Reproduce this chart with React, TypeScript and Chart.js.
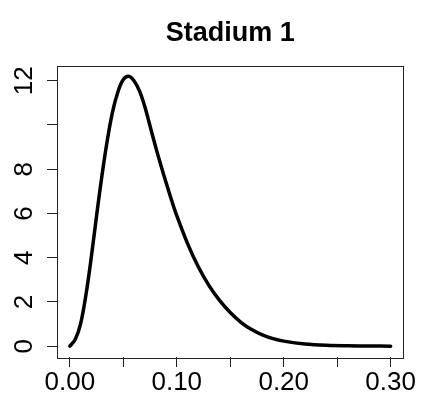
import React, { useEffect, useRef } from "react";
import { Chart, registerables } from "chart.js";

Chart.register(...registerables);

const titleText = "Stadium 1";
const xValues = [0, 0.005, 0.01, 0.015, 0.02, 0.025, 0.03, 0.035, 0.04, 0.045, 0.05, 0.055, 0.06, 0.065, 0.07, 0.075, 0.08, 0.085, 0.09, 0.095, 0.1, 0.11, 0.12, 0.13, 0.14, 0.15, 0.16, 0.17, 0.18, 0.19, 0.2, 0.22, 0.24, 0.26, 0.28, 0.3];
const yValues = [0, 0.3, 1.0, 2.3, 4.0, 5.9, 7.7, 9.3, 10.6, 11.5, 12.05, 12.2, 12.0, 11.55, 10.85, 9.95, 9.05, 8.2, 7.4, 6.62, 5.9, 4.65, 3.6, 2.75, 2.07, 1.52, 1.08, 0.75, 0.51, 0.34, 0.23, 0.1, 0.04, 0.016, 0.006, 0.002];
const xTickValues = [0, 0.05, 0.1, 0.15, 0.2, 0.25, 0.3];
const xTickLabels = ["0.00", "", "0.10", "", "0.20", "", "0.30"];
const yTickValues = [0, 2, 4, 6, 8, 10, 12];
const yTickLabels = ["0", "2", "4", "6", "8", "", "12"];

const FONT = "'Liberation Sans', Arial, Helvetica, sans-serif";

function extend(vals: number[]) {
  const mn = Math.min(...vals);
  const mx = Math.max(...vals);
  const d = (mx - mn) * 0.04;
  return [mn - d, mx + d];
}

const boxPlugin = {
  id: "rbox",
  afterDraw(chart: any) {
    const { ctx, chartArea } = chart;
    ctx.save();
    ctx.strokeStyle = "#222";
    ctx.lineWidth = 1;
    ctx.strokeRect(
      Math.round(chartArea.left) + 0.5,
      Math.round(chartArea.top) + 0.5,
      Math.round(chartArea.right - chartArea.left) - 1,
      Math.round(chartArea.bottom - chartArea.top)
    );
    ctx.restore();
  },
};

export default function App() {
  const ref = useRef<HTMLCanvasElement | null>(null);
  useEffect(() => {
    document.body.style.margin = "0";
    const [xmin, xmax] = extend(xValues);
    const [ymin, ymax] = extend(yValues);
    const chart = new Chart(ref.current as HTMLCanvasElement, {
      type: "line",
      data: {
        datasets: [
          {
            data: xValues.map((x, i) => ({ x, y: yValues[i] })),
            borderColor: "#000",
            borderWidth: 3.5,
            borderCapStyle: "round",
            borderJoinStyle: "round",
            pointRadius: 0,
            fill: false,
            tension: 0.35,
          },
        ],
      },
      options: {
        animation: false,
        responsive: false,
        devicePixelRatio: 1,
        layout: { padding: { left: 0, right: 17.5, top: 0, bottom: 0 } },
        plugins: {
          legend: { display: false },
          tooltip: { enabled: false },
          title: {
            display: true,
            text: titleText,
            fullSize: false,
            color: "#000",
            font: { family: FONT, size: 27, weight: "bold", lineHeight: 1.2 },
            padding: { top: 17, bottom: 16.1 },
          },
        },
        scales: {
          x: {
            type: "linear",
            min: xmin,
            max: xmax,
            afterBuildTicks: (s: any) => {
              s.ticks = xTickValues.map((v) => ({ value: v }));
            },
            afterFit: (s: any) => {
              s.height = 37;
            },
            grid: { drawOnChartArea: false, drawTicks: true, tickLength: 10, color: "#222", lineWidth: 1 },
            border: { display: false },
            ticks: {
              autoSkip: false,
              maxRotation: 0,
              minRotation: 0,
              padding: 0,
              color: "#000",
              font: { family: FONT, size: 26 },
              callback: (_v: any, i: number) => xTickLabels[i],
            },
          },
          y: {
            type: "linear",
            min: ymin,
            max: ymax,
            afterBuildTicks: (s: any) => {
              s.ticks = yTickValues.map((v) => ({ value: v }));
            },
            afterFit: (s: any) => {
              s.width = 57;
            },
            grid: { drawOnChartArea: false, drawTicks: true, tickLength: 10, color: "#222", lineWidth: 1 },
            border: { display: false },
            ticks: {
              autoSkip: false,
              minRotation: 90,
              maxRotation: 90,
              crossAlign: "center",
              padding: 8,
              color: "#000",
              font: { family: FONT, size: 26 },
              callback: (_v: any, i: number) => yTickLabels[i],
            },
          },
        },
      },
      plugins: [boxPlugin],
    } as any);
    return () => chart.destroy();
  }, []);
  return (
    <div style={{ width: 421, height: 394, background: "#fff" }}>
      <canvas ref={ref} width={421} height={394} style={{ display: "block" }} />
    </div>
  );
}
